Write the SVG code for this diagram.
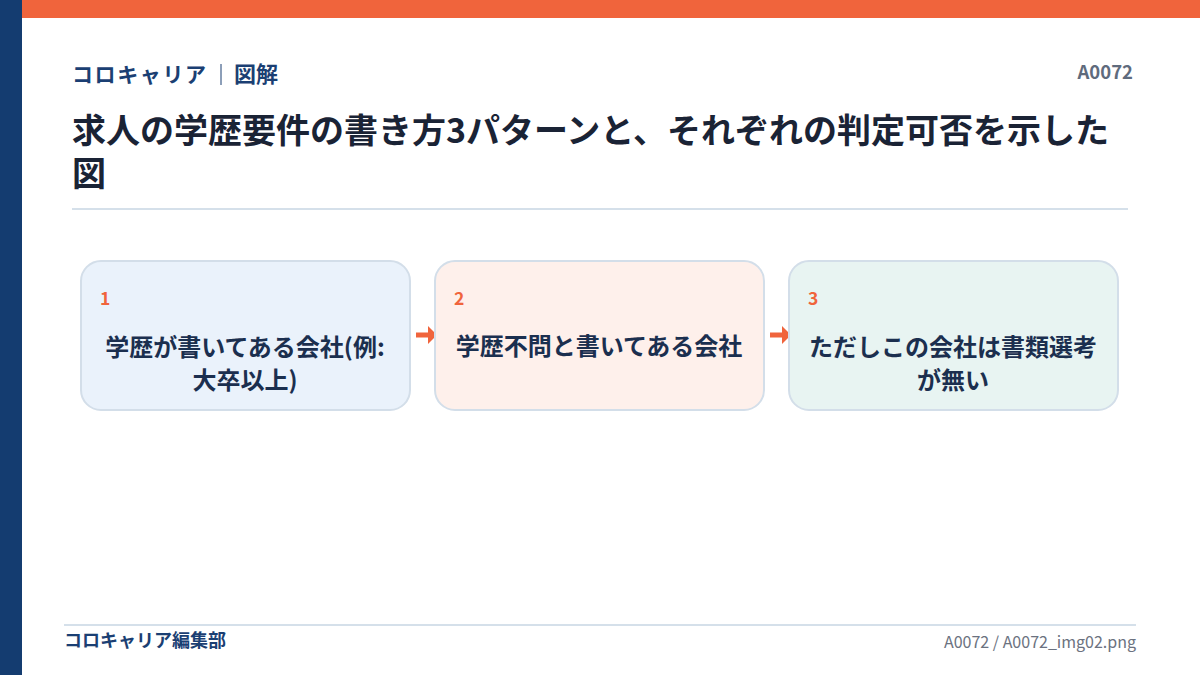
<svg xmlns="http://www.w3.org/2000/svg" width="1200" height="675" viewBox="0 0 1200 675">
<defs>
<style>
text{font-family:"Noto Sans CJK JP","Noto Sans",sans-serif}
.box{stroke:#D3DEE9;stroke-width:2}
.num{font-size:17.5px;font-weight:700;fill:#F0643C}
.lbl{font-size:24px;font-weight:700;fill:#1B2F4F;text-anchor:middle}
.arr{fill:#F0643C}
</style>
</defs>
<rect x="0" y="0" width="1200" height="675" fill="#FFFFFF"/>
<rect x="22" y="0" width="1178" height="18" fill="#F0643C"/>
<rect x="0" y="0" width="22" height="675" fill="#143C70"/>
<g id="header">
<text x="72" y="82" font-size="21" font-weight="700" fill="#1B3F73" letter-spacing="1.6">コロキャリア</text>
<line x1="221" y1="64" x2="221" y2="85" stroke="#1B3F73" stroke-width="1"/>
<text x="234" y="82" font-size="22" font-weight="700" fill="#1B3F73">図解</text>
<text x="1133" y="79" font-size="18.5" font-weight="700" fill="#5F6B7D" text-anchor="end">A0072</text>
<text font-size="34" font-weight="700" fill="#1A2335"><tspan x="72" y="143">求人の学歴要件の書き方3パターンと、それぞれの判定可否を示した</tspan><tspan x="72" y="186">図</tspan></text>
<line x1="72" y1="209" x2="1128" y2="209" stroke="#D5E0EA" stroke-width="2"/>
</g>
<g id="connectors">
<rect class="arr" x="416" y="332.5" width="13" height="5"/>
<polygon class="arr" points="428,326 437,335 428,344"/>
<rect class="arr" x="770" y="332.5" width="13" height="5"/>
<polygon class="arr" points="782,326 791,335 782,344"/>
</g>
<g id="node1">
<rect class="box" x="81" y="261" width="329" height="149" rx="20" fill="#EAF2FB"/>
<text class="num" x="100" y="305">1</text>
<text class="lbl" x="245" y="356">学歴が書いてある会社(例:</text>
<text class="lbl" x="245" y="389">大卒以上)</text>
</g>
<g id="node2">
<rect class="box" x="435" y="261" width="329" height="149" rx="20" fill="#FEF0EB"/>
<text class="num" x="454" y="305">2</text>
<text class="lbl" x="599" y="355">学歴不問と書いてある会社</text>
</g>
<g id="node3">
<rect class="box" x="789" y="261" width="329" height="149" rx="20" fill="#E8F4F2"/>
<text class="num" x="808" y="305">3</text>
<text class="lbl" x="953" y="356">ただしこの会社は書類選考</text>
<text class="lbl" x="953" y="389">が無い</text>
</g>
<g id="footer">
<line x1="64" y1="625" x2="1136" y2="625" stroke="#D5E0EA" stroke-width="2"/>
<text x="64" y="647" font-size="18" font-weight="700" fill="#1B3F73">コロキャリア編集部</text>
<text x="1136" y="648" font-size="16" fill="#6B7280" text-anchor="end">A0072 / A0072_img02.png</text>
</g>
</svg>
